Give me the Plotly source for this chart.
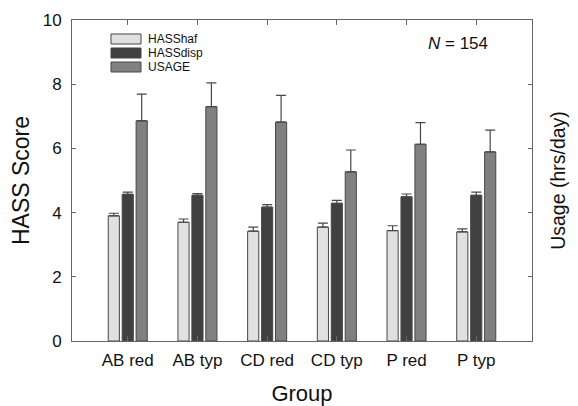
import plotly.graph_objects as go

groups = ["AB red", "AB typ", "CD red", "CD typ", "P red", "P typ"]
hass_haf = [3.90, 3.70, 3.42, 3.55, 3.44, 3.40]
hass_haf_err = [0.08, 0.10, 0.13, 0.12, 0.15, 0.09]
hass_disp = [4.57, 4.54, 4.17, 4.29, 4.49, 4.54]
hass_disp_err = [0.07, 0.05, 0.08, 0.09, 0.09, 0.10]
usage = [6.86, 7.30, 6.82, 5.27, 6.13, 5.89]
usage_err = [0.83, 0.74, 0.83, 0.68, 0.67, 0.68]

series_names = ["HASShaf", "HASSdisp", "USAGE"]
series_colors = ["#e0e0e0", "#404040", "#808080"]
series_vals = [hass_haf, hass_disp, usage]
series_errs = [hass_haf_err, hass_disp_err, usage_err]

FONT = "Liberation Sans, Arial, sans-serif"
EDGE = "#474747"
fig = go.Figure()
for name, vals, errs, col in zip(series_names, series_vals, series_errs, series_colors):
    fig.add_trace(go.Bar(
        x=groups, y=vals, name=name, showlegend=False,
        marker=dict(color=col, line=dict(color=EDGE, width=1)),
        error_y=dict(type="data", array=errs, arrayminus=[0] * len(errs), symmetric=False,
                     color=EDGE, thickness=1.2, width=5),
    ))

fig.update_layout(
    width=578, height=406,
    margin=dict(l=64, r=54, t=12, b=73, autoexpand=False),
    paper_bgcolor="white", plot_bgcolor="white",
    barmode="group", bargap=0.4, bargroupgap=0.2,
    font=dict(family=FONT, color="#111111"),
    showlegend=False,
    xaxis=dict(range=[-0.8, 5.8], showline=True, linecolor="#666666", linewidth=1,
               mirror="ticks", ticks="inside", ticklen=5, tickcolor="#666666",
               tickfont=dict(size=17), ticklabelstandoff=4,
               title=dict(text="Group", font=dict(size=22), standoff=16)),
    yaxis=dict(range=[0, 10], dtick=2, showline=True, linecolor="#666666", linewidth=1,
               mirror="ticks", ticks="inside", ticklen=4, tickcolor="#666666",
               showgrid=False, zeroline=False, tickfont=dict(size=17),
               ticklabelstandoff=6,
               title=dict(text="HASS Score", font=dict(size=23), standoff=11)),
    yaxis2=dict(range=[0, 10], overlaying="y", side="right", showline=False,
                ticks="", showticklabels=False, showgrid=False, zeroline=False,
                title=dict(text="Usage (hrs/day)", font=dict(size=19.5), standoff=19)),
)
fig.add_trace(go.Scatter(x=groups, y=[None] * len(groups), yaxis="y2",
                         showlegend=False, hoverinfo="skip"))

# legend drawn as swatches + labels in the top-left corner
row_y = [0.9408, 0.8972, 0.8536]
for name, col, yy in zip(series_names, series_colors, row_y):
    fig.add_shape(type="rect", xref="paper", yref="paper",
                  x0=0.0848, x1=0.1500, y0=yy - 0.0156, y1=yy + 0.0156,
                  fillcolor=col, line=dict(color=EDGE, width=1))
    fig.add_annotation(x=0.163, y=yy, xref="paper", yref="paper", showarrow=False,
                       text=name, xanchor="left", yanchor="middle", borderpad=0,
                       font=dict(size=12, family=FONT, color="#111111"))

fig.add_annotation(x=0.909, y=0.928, xref="paper", yref="paper", showarrow=False,
                   text="<i>N</i> = 154", font=dict(size=17, family=FONT),
                   xanchor="right", yanchor="middle")

fig.write_html("out.html")
